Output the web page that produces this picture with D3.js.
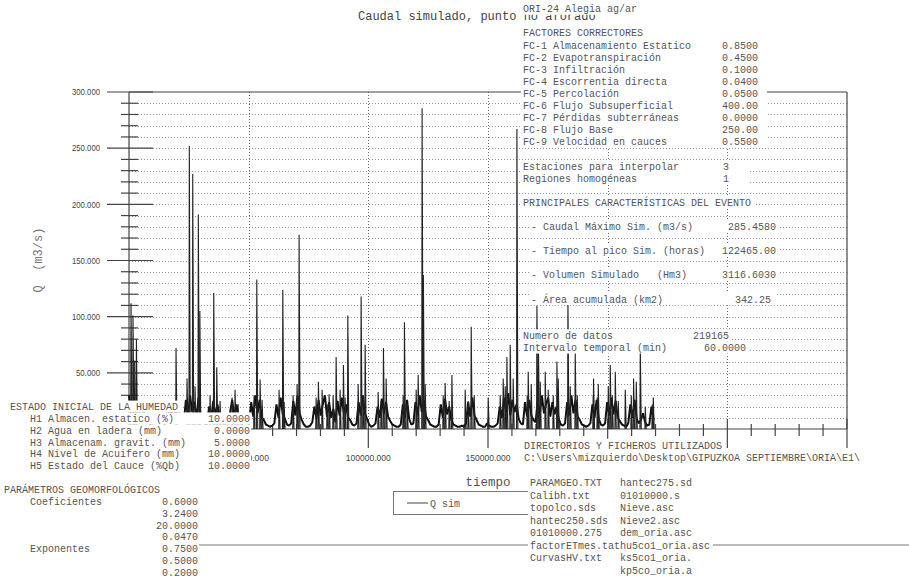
<!DOCTYPE html>
<html><head><meta charset="utf-8">
<script src="https://cdn.jsdelivr.net/npm/d3@7"></script>
<style>
body{margin:0;background:#fff;}
svg text{white-space:pre;}
</style></head><body>
<svg id="c" width="909" height="581"></svg>
<script>
// ---------------- DATA ----------------
const chartTitle = "Caudal simulado, punto no aforado";
const yTitle = "Q  (m3/s)";
const xTitle = "tiempo";
const seriesName = "Q sim";

const yTickValues = [0, 50, 100, 150, 200, 250, 300];
// the 0 label is hidden behind the parameter panel in the original
const yTickLabels = ["", "50.000", "100.000", "150.000", "200.000", "250.000", "300.000"];
const xTickValues = [0, 50000, 100000, 150000, 200000, 250000, 300000];
// labels 0, 200000, 250000, 300000 are hidden behind the panels in the original
const xTickLabels = ["", "50000.000", "100000.000", "150000.000", "", "", ""];

const recordHours = 219165;

// seasonal base flow, regular samples over the record (m3/s)
const baseQ = [
  30,12,26,18,22, 14,9,16,8,6, 4,3,3,2,2,3,2,4,6, 18,9,24,11,20,14,8, 5,
  26,12,30,15,24,10,28,13,9, 4,3, 20,9,25,12,22,10,7, 4,3,3, 15,26,10,22,9,
  5,3,2,2,4, 24,11,30,14,26,10,8, 4,3,2,3,5, 22,10,28,13,9, 4,3,5,
  25,12,30,14,8, 4,2,2,3,6, 20,9,26,12,22,30,11,24,10,18, 6,
  25,12,28,14,22,10,8, 4,3,5, 24,12,30,14,9, 4,2,3,5, 20,10,27,13,24,11,7,
  4,3,2,2,4, 22,10,26,9, 4,5, 24,12,30,15,26,11,8, 4,3,2,2,4,
  22,10,27,13,20,8, 4,3,2,2,3,2,5, 24,11,28,12,8, 4,3,2,2,5,3,2,2,3,5,
  20,10,28,14,32,12,26,15,22,9, 5,4, 24,11,26,12,8, 6,
  25,12,30,14,22,28,11,24,13,20,9, 4,3,5, 24,12,30,14,26,11,8, 4,3,2,3,5,
  22,10,26,9, 4,3,5, 24,12,28,13,25,10,7, 4,3,2,5, 22,10,26,9, 5,8,14,6,3,4, 20,8
];

// flood peaks: time (hours) and discharge (m3/s)
const peakT = [840,1670,2380,3100,19650,25200,26630,28970,29600,35410,36660,44310,53390,54770,
  64260,71070,79140,83610,86540,89590,91430,96990,98660,106310,115090,120820,122465,123000,
  132100,134910,140470,142980,150080,156350,157900,159280,162080,166800,170440,171110,173910,
  178800,183400,186450,194100,196070,201090,203180,207360,210830,213630,219060,
  24250,27590,33860,38040,43060,45570,52250,55600,62700,64800,68560,70230,78180,80690,82780,
  85280,88200,90300,95730,97820,104100,107440,105350,114550,116220,119980,123740,131270,133780,
  141720,144230,155100,157190,160530,166390,168060,171820,175160,177250,179340,184360,187290,
  193980,195650,200250,201920,204430,209860,211950,215710,218640];
const peakQ = [112,101,61,80,72,252,227,191,105,121,55,35,133,44,
  124,173,42,31,64,57,101,118,75,72,95,48,285.458,137,
  41,48,35,91,28,45,64,75,267,51,110,69,51,
  60,115,69,45,40,57,51,35,45,75,28,
  45,38,30,25,28,22,30,26,35,24,30,40,28,35,22,
  30,35,28,40,30,33,45,25,30,22,35,40,30,25,
  25,30,30,38,45,30,40,42,35,30,45,38,30,
  30,28,38,30,25,30,42,20,22];

// right panel
const headerLabel = "ORI-24 Alegia ag/ar";
const factorsTitle = "FACTORES CORRECTORES";
const factorLabels = ["FC-1 Almacenamiento Estatico","FC-2 Evapotranspiración","FC-3 Infiltración",
  "FC-4 Escorrentia directa","FC-5 Percolación","FC-6 Flujo Subsuperficial",
  "FC-7 Pérdidas subterráneas","FC-8 Flujo Base","FC-9 Velocidad en cauces"];
const factorValues = ["0.8500","0.4500","0.1000","0.0400","0.0500","400.00","0.0000","250.00","0.5500"];
const stationLabels = ["Estaciones para interpolar","Regiones homogéneas"];
const stationValues = ["3","1"];
const eventTitle = "PRINCIPALES CARACTERÍSTICAS DEL EVENTO";
const eventLabels = ["- Caudal Máximo Sim. (m3/s)","- Tiempo al pico Sim. (horas)","- Volumen Simulado   (Hm3)","- Área acumulada (km2)"];
const eventValues = ["285.4580","122465.00","3116.6030","342.25"];
const dataLabels = ["Numero de datos","Intervalo temporal (min)"];
const dataValues = ["219165","60.0000"];

// left panel
const humTitle = "ESTADO INICIAL DE LA HUMEDAD";
const humLabels = ["H1 Almacen. estatico (%)","H2 Agua en ladera (mm)","H3 Almacenam. gravit. (mm)","H4 Nivel de Acuifero (mm)","H5 Estado del Cauce (%Qb)"];
const humValues = ["10.0000","0.0000","5.0000","10.0000","10.0000"];
const geoTitle = "PARÁMETROS GEOMORFOLÓGICOS";
const geoLabels = ["Coeficientes","","","","Exponentes","",""];
const geoValues = ["0.6000","3.2400","20.0000","0.0470","0.7500","0.5000","0.2000"];

// files panel
const dirTitle = "DIRECTORIOS Y FICHEROS UTILIZADOS";
const dirPath = "C:\\Users\\mizquierdo\\Desktop\\GIPUZKOA SEPTIEMBRE\\ORIA\\E1\\";
const filesCol1 = ["PARAMGEO.TXT","Calibh.txt","topolco.sds","hantec250.sds","01010000.275","factorETmes.tat","CurvasHV.txt",""];
const filesCol2 = ["hantec275.sd","01010000.s","Nieve.asc","Nieve2.asc","dem_oria.asc","hu5co1_oria.asc","ks5co1_oria.","kp5co_oria.a"];

// ---------------- DRAWING ----------------
const svg = d3.select("#c");
const MONO = "'Liberation Mono','DejaVu Sans Mono',monospace";
const NARROW = "'Liberation Sans Narrow','Liberation Sans',Arial,sans-serif";
const TXT = "#555";

const x = d3.scaleLinear().domain([0, 300000]).range([129, 847]);
const y = d3.scaleLinear().domain([0, 300]).range([429, 92]);

svg.append("rect").attr("width",909).attr("height",581).attr("fill","#fff");

// grid
const minorY = d3.range(10, 300, 10);
svg.append("g").selectAll("line").data(minorY).join("line")
  .attr("x1", x(0)).attr("x2", x(300000))
  .attr("y1", d => Math.round(y(d)) + 0.5).attr("y2", d => Math.round(y(d)) + 0.5)
  .attr("stroke", "#8c92b8").attr("stroke-dasharray", "1,2").attr("stroke-width", 1);
svg.append("g").selectAll("line").data(xTickValues.slice(1, -1)).join("line")
  .attr("x1", d => Math.round(x(d)) + 0.5).attr("x2", d => Math.round(x(d)) + 0.5)
  .attr("y1", y(300)).attr("y2", y(0))
  .attr("stroke", "#666").attr("stroke-dasharray", "1,2").attr("stroke-width", 1);

// axes frame
const AX = "#444";
const frame = svg.append("g").attr("stroke", AX).attr("stroke-width", 1.2).attr("fill", "none");
frame.append("line").attr("x1", x(0)).attr("x2", x(0)).attr("y1", y(300)).attr("y2", y(0));
frame.append("line").attr("x1", x(0)).attr("x2", x(300000)).attr("y1", y(0)).attr("y2", y(0));
frame.append("line").attr("x1", x(0)).attr("x2", x(300000)).attr("y1", y(300)).attr("y2", y(300));
frame.append("line").attr("x1", x(300000)).attr("x2", x(300000)).attr("y1", y(300)).attr("y2", y(0));

// y ticks
const yMinor = d3.range(0, 301, 10).filter(v => v % 50 !== 0);
frame.selectAll("line.ym").data(yMinor).join("line").attr("class","ym")
  .attr("x1", x(0) - 8).attr("x2", x(0) + 9).attr("y1", d => y(d)).attr("y2", d => y(d));
frame.selectAll("line.yM").data(yTickValues).join("line").attr("class","yM")
  .attr("x1", x(0) - 22).attr("x2", x(0) + 24).attr("y1", d => y(d)).attr("y2", d => y(d));
svg.append("g").selectAll("text").data(yTickValues.filter((d, i) => yTickLabels[i])).join("text")
  .attr("x", 100).attr("y", d => y(d)).attr("dy", "0.35em").attr("text-anchor", "end")
  .attr("font-family", NARROW).attr("font-size", 9.5).attr("fill", "#444")
  .attr("textLength", d => yTickLabels[yTickValues.indexOf(d)].length * 4).attr("lengthAdjust", "spacingAndGlyphs")
  .text(d => yTickLabels[yTickValues.indexOf(d)]);

// x ticks
const xMinor = d3.range(0, 300001, 10000).filter(v => v % 50000 !== 0);
frame.selectAll("line.xm").data(xMinor).join("line").attr("class","xm")
  .attr("x1", d => x(d)).attr("x2", d => x(d)).attr("y1", y(0) - 5).attr("y2", y(0) + 7);
frame.selectAll("line.xM").data(xTickValues).join("line").attr("class","xM")
  .attr("x1", d => x(d)).attr("x2", d => x(d)).attr("y1", y(0) - 10).attr("y2", y(0) + 19);
svg.append("g").selectAll("text").data(xTickValues.filter((d, i) => xTickLabels[i])).join("text")
  .attr("x", d => x(d)).attr("y", 458).attr("dy", "0.35em").attr("text-anchor", "middle")
  .attr("font-family", NARROW).attr("font-size", 9.5).attr("fill", "#444")
  .attr("textLength", d => xTickLabels[xTickValues.indexOf(d)].length * 4.5).attr("lengthAdjust", "spacingAndGlyphs")
  .text(d => xTickLabels[xTickValues.indexOf(d)]);

// data: base flow line
const step = recordHours / (baseQ.length - 1);
const line = d3.line().x(d => x(d[0])).y(d => y(d[1]));
svg.append("path").datum(baseQ.map((q, i) => [i * step, q]))
  .attr("d", line).attr("fill", "none").attr("stroke", "#111").attr("stroke-width", 2)
  .attr("stroke-linejoin", "bevel");
// data: flood peaks
svg.append("g").selectAll("path").data(peakT.map((t, i) => [t, peakQ[i]])).join("path")
  .attr("d", d => line([[d[0] - 150, 0], [d[0], d[1]], [d[0] + 400, 0]]))
  .attr("fill", "none").attr("stroke", "#222").attr("stroke-width", 1.1);

// titles
svg.append("text").attr("x", 358).attr("y", 16).attr("dy", "0.35em")
  .attr("font-family", MONO).attr("font-size", 12).attr("fill", "#444").text(chartTitle);
svg.append("text").attr("transform", "translate(38,260) rotate(-90)").attr("dy", "0.35em")
  .attr("text-anchor", "middle").attr("font-family", MONO).attr("font-size", 12).attr("fill", "#777").text(yTitle);
svg.append("text").attr("x", 488).attr("y", 482).attr("dy", "0.35em").attr("text-anchor", "middle")
  .attr("font-family", MONO).attr("font-size", 12.5).attr("fill", "#555").text(xTitle);

// horizontal separator line
svg.append("line").attr("x1", 0).attr("x2", 909).attr("y1", 545).attr("y2", 545)
  .attr("stroke", "#777").attr("stroke-width", 1);

// legend box
const lg = svg.append("g");
lg.append("rect").attr("x", 393.5).attr("y", 491.5).attr("width", 220).attr("height", 23)
  .attr("fill", "#fff").attr("stroke", "#777");
lg.append("line").attr("x1", 407).attr("x2", 428).attr("y1", 503).attr("y2", 503).attr("stroke", "#444");
lg.append("text").attr("x", 430).attr("y", 503).attr("dy", "0.35em")
  .attr("font-family", MONO).attr("font-size", 10).attr("fill", TXT).text(seriesName);

// text rows with opaque white background
function textRow(yC, h, parts, opts = {}) {
  const g = svg.append("g");
  const rect = g.append("rect").attr("fill", "#fff");
  let maxEnd = -1, minStart = Infinity;
  parts.forEach(p => {
    if (!p.text) return;
    const t = g.append("text").attr("x", p.x).attr("y", yC).attr("dy", "0.35em")
      .attr("text-anchor", p.anchor || "start").attr("font-family", MONO)
      .attr("font-size", 10).attr("fill", TXT).text(p.text);
    const bb = t.node().getBBox();
    maxEnd = Math.max(maxEnd, bb.x + bb.width);
    minStart = Math.min(minStart, bb.x);
  });
  if (maxEnd < 0) { rect.remove(); return; }
  const x0 = opts.bgStart != null ? opts.bgStart : minStart - 2;
  const x1 = Math.max(maxEnd + (opts.pad != null ? opts.pad : 3), opts.minEnd || 0);
  rect.attr("x", x0).attr("y", yC - h / 2).attr("width", x1 - x0).attr("height", h);
}

// right panel
const RX = 523, RY = 45, RS = 12.1;
const ry = n => RY + RS * n;
textRow(ry(-3), RS, [{text: headerLabel, x: RX}]);
textRow(ry(-1), RS, [{text: factorsTitle, x: RX}]);
factorLabels.forEach((l, i) => textRow(ry(i), RS, [{text: l, x: RX}, {text: factorValues[i], x: 722}], {minEnd: 767}));
stationLabels.forEach((l, i) => textRow(ry(10 + i), RS, [{text: l, x: RX}, {text: stationValues[i], x: 723}], {minEnd: 750}));
textRow(ry(13), RS, [{text: eventTitle, x: RX}]);
const evValX = [728, 722, 722, 735];
eventLabels.forEach((l, i) => textRow(ry(15 + 2 * i), RS, [{text: l, x: 531}, {text: eventValues[i], x: evValX[i]}], {minEnd: 775}));
const dvX = [693, 704];
dataLabels.forEach((l, i) => textRow(ry(24 + i), RS, [{text: l, x: RX}, {text: dataValues[i], x: dvX[i]}]));

// left panel
const LY = 406.5, LS = 11.85;
const ly = n => LY + LS * n;
textRow(ly(0), LS, [{text: humTitle, x: 10}], {bgStart: 0});
humLabels.forEach((l, i) => textRow(ly(1 + i), LS, [{text: l, x: 30}, {text: humValues[i], x: 250, anchor: "end"}], {bgStart: 0, pad: 1}));
textRow(ly(7), LS, [{text: geoTitle, x: 4}], {bgStart: 0});
geoLabels.forEach((l, i) => textRow(ly(8 + i), LS, [{text: l, x: 30}, {text: geoValues[i], x: 198, anchor: "end"}], {bgStart: 0, pad: 1}));

// files panel
const FY = 445, FS = 12.5;
const fy = n => FY + FS * n;
textRow(fy(0), FS, [{text: dirTitle, x: 524}]);
textRow(fy(1), FS, [{text: dirPath, x: 524}], {pad: 12});
filesCol1.forEach((f, i) => textRow(fy(3 + i), FS, [{text: f, x: 530}, {text: filesCol2[i], x: 620}]));
</script>
</body></html>
